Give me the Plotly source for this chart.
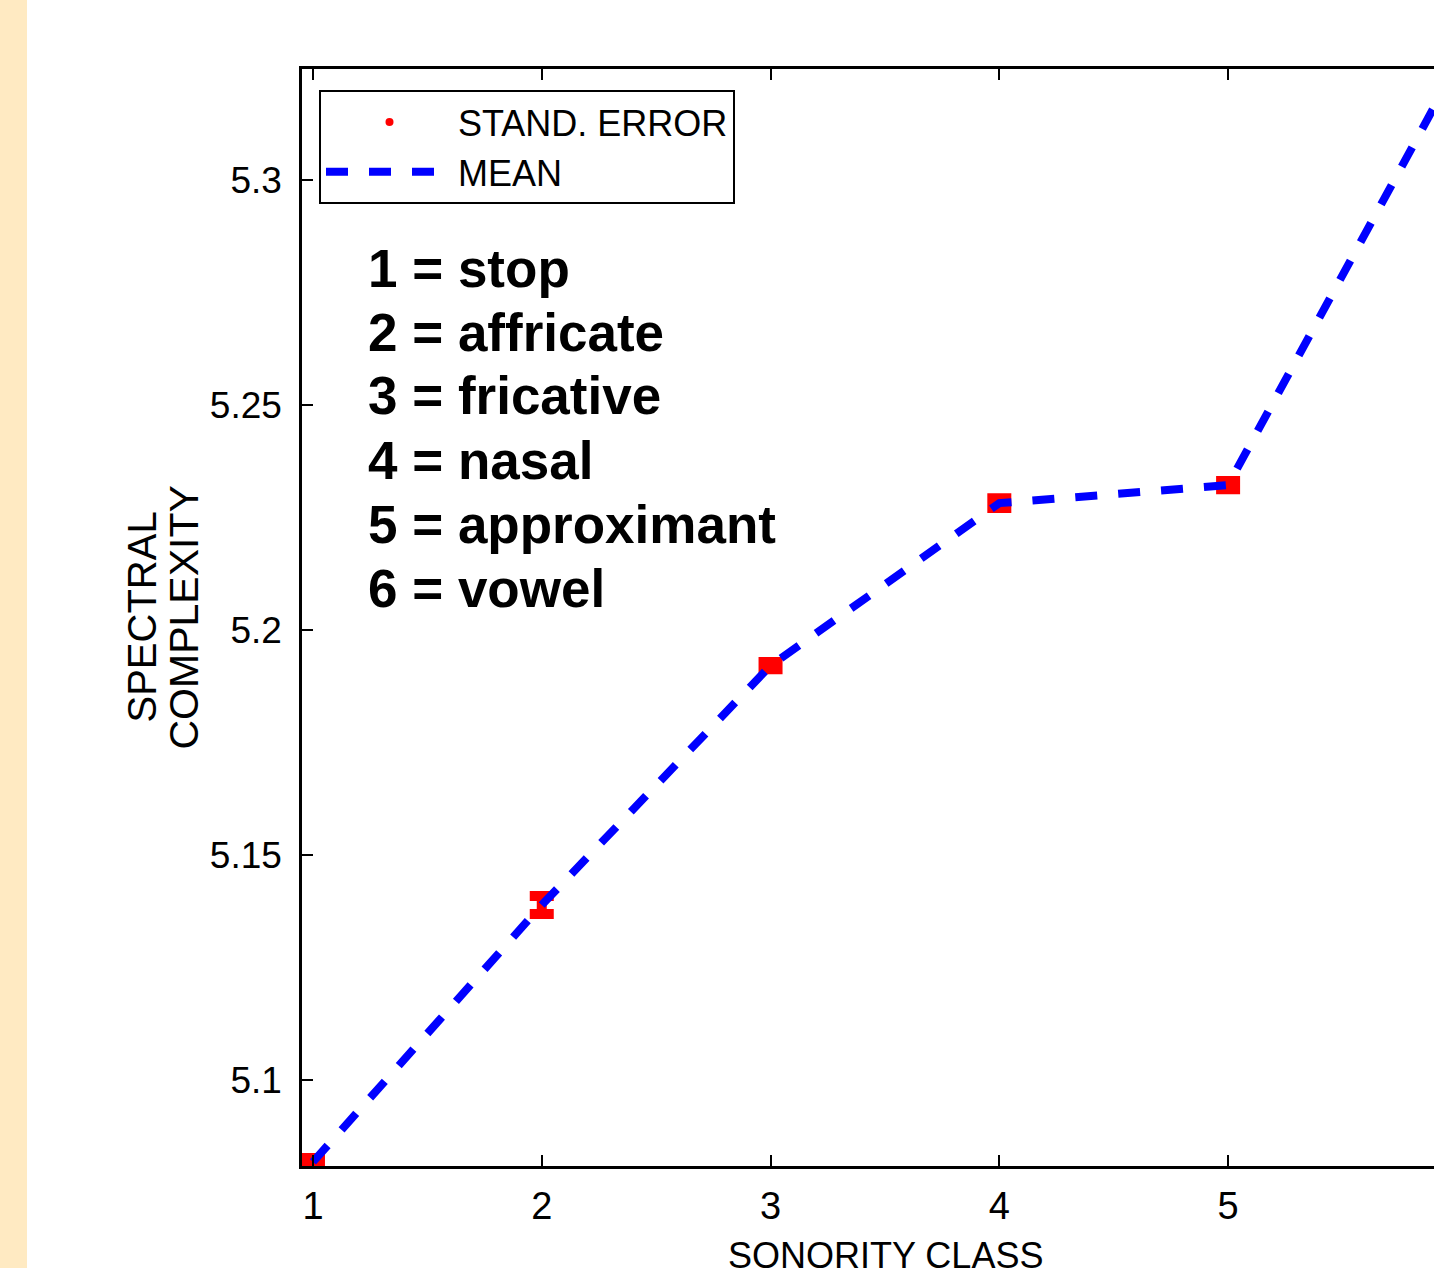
import plotly.graph_objects as go

# ---- data ----
classes = [1, 2, 3, 4, 5, 6]
class_names = ["stop", "affricate", "fricative", "nasal", "approximant", "vowel"]
mean_vals = [5.0818, 5.1389, 5.1921, 5.2282, 5.2322, 5.3255]
stderr_vals = [0.0009, 0.0020, 0.0008, 0.0011, 0.0009, 0.0010]
x_ticks = [1, 2, 3, 4, 5, 6]
y_ticks = [5.1, 5.15, 5.2, 5.25, 5.3]
y_tick_text = ["5.1", "5.15", "5.2", "5.25", "5.3"]

NARROW = "Liberation Sans Narrow, Arial Narrow, Liberation Sans, Arial"
REG = "Liberation Sans, Arial, Helvetica"

fig = go.Figure()
fig.add_trace(go.Scatter(
    x=classes, y=mean_vals, mode="markers", name="STAND. ERROR",
    marker=dict(color="red", size=8),
    error_y=dict(type="data", array=stderr_vals, color="red", thickness=10, width=12),
))
fig.add_trace(go.Scatter(
    x=classes, y=mean_vals, mode="lines", name="MEAN",
    line=dict(color="blue", width=8, dash="22px,21px"),
))

W, H = 1434, 1268
L, R, T, B = 302, 0, 69, 102
pw, ph = W - L - R, H - T - B

def px2paper_x(px):
    return (px - L) / pw

def px2paper_y(py):
    return (H - B - py) / ph

annotations = []
for i, (c, nm) in enumerate(zip(classes, class_names)):
    annotations.append(dict(
        text=f"{c} = {nm}", xref="paper", yref="paper",
        x=px2paper_x(366), y=px2paper_y(268 + 64 * i),
        xanchor="left", yanchor="middle", showarrow=False,
        font=dict(family=REG, size=53, color="black", weight="bold"),
    ))
annotations.append(dict(
    text="SONORITY CLASS", xref="paper", yref="paper",
    x=px2paper_x(885), y=px2paper_y(1255), xanchor="center", yanchor="middle",
    showarrow=False, font=dict(family=NARROW, size=36, color="black"),
))
annotations.append(dict(
    text="SPECTRAL", xref="paper", yref="paper",
    x=px2paper_x(141), y=0.5, xanchor="center", yanchor="middle", textangle=-90,
    showarrow=False, font=dict(family=REG, size=40, color="black"),
))
annotations.append(dict(
    text="COMPLEXITY", xref="paper", yref="paper",
    x=px2paper_x(183), y=0.5, xanchor="center", yanchor="middle", textangle=-90,
    showarrow=False, font=dict(family=REG, size=41, color="black"),
))

fig.update_layout(
    width=W, height=H,
    margin=dict(l=L, r=R, t=T, b=B, pad=0),
    paper_bgcolor="white", plot_bgcolor="white",
    showlegend=True,
    legend=dict(
        x=px2paper_x(319), y=px2paper_y(90), xanchor="left", yanchor="top",
        bordercolor="black", borderwidth=2, bgcolor="white",
        font=dict(family=NARROW, size=36, color="black"),
        itemwidth=127, tracegroupgap=0,
    ),
    annotations=annotations,
    shapes=[dict(
        type="rect", xref="paper", yref="paper",
        x0=px2paper_x(0), x1=px2paper_x(27), y0=px2paper_y(H), y1=px2paper_y(0),
        fillcolor="rgb(255,234,194)", line=dict(width=0), layer="below",
    )],
)
fig.update_xaxes(
    range=[0.952, 5.9], tickvals=x_ticks, ticktext=[str(v) for v in x_ticks],
    ticks="inside", ticklen=11, tickwidth=1.5, tickcolor="black",
    showline=True, linecolor="black", linewidth=2.5, mirror="ticks",
    showgrid=False, zeroline=False,
    tickfont=dict(family=NARROW, size=38, color="black"),
    ticklabelstandoff=5,
)
fig.update_yaxes(
    range=[5.0809, 5.32467], tickvals=y_ticks, ticktext=y_tick_text,
    ticks="inside", ticklen=11, tickwidth=1.5, tickcolor="black",
    showline=True, linecolor="black", linewidth=2.5, mirror=False,
    showgrid=False, zeroline=False,
    tickfont=dict(family=NARROW, size=37, color="black"),
    ticklabelstandoff=10,
)

fig.write_html(
    "out.html",
    config={"displayModeBar": False},
    post_script="document.body.style.margin='0px';document.body.style.overflow='hidden';",
)
